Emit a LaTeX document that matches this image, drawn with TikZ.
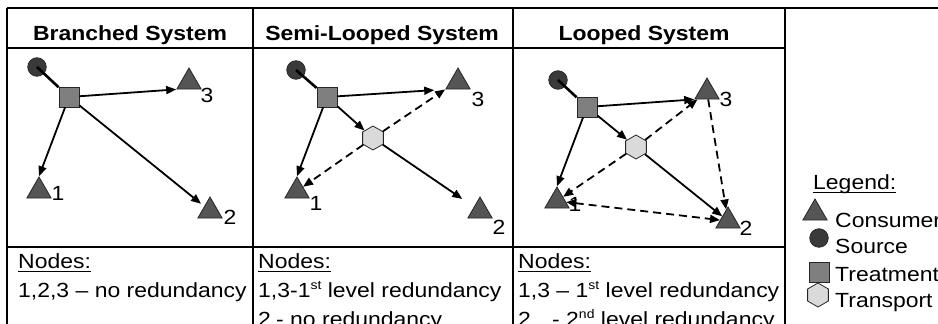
\documentclass[tikz,border=0pt]{standalone}
\usepackage{fontspec}
\setmainfont{Liberation Sans}[FakeStretch=1.12]
\usetikzlibrary{shapes.geometric,arrows.meta}
\definecolor{srcfill}{HTML}{3A3A3A}
\definecolor{trtfill}{HTML}{7F7F7F}
\definecolor{consfill}{HTML}{555555}
\definecolor{hubfill}{HTML}{DADADA}
\definecolor{edgecol}{HTML}{262626}
% underline drawn as a rule a little under the baseline
\newcommand\ulword[1]{\setbox0\hbox{#1}\rlap{\rule[-4.4pt]{\wd0}{1.3pt}}#1}
% small raised ordinal suffix
\newcommand\ordsfx[1]{\raisebox{7.5pt}{\fontsize{12.5}{13}\selectfont #1}}
\begin{document}
\begin{tikzpicture}[x=1pt,y=-1pt,
  txt/.style={inner sep=0pt,font=\fontsize{20.5}{24}\selectfont},
  hd/.style={txt,anchor=base,font=\fontsize{20.5}{24}\selectfont\bfseries},
  body/.style={txt,anchor=base west},
  num/.style={inner sep=0pt,font=\fontsize{20.5}{24}\selectfont},
  cons/.style={regular polygon,regular polygon sides=3,minimum size=28pt,inner sep=0pt,
    fill=consfill,draw=edgecol,line width=0.8pt},
  src/.style={circle,minimum size=18.5pt,inner sep=0pt,fill=srcfill,draw=edgecol,line width=0.8pt},
  trt/.style={rectangle,minimum size=20pt,inner sep=0pt,fill=trtfill,draw=edgecol,line width=0.8pt},
  hub/.style={regular polygon,regular polygon sides=6,shape border rotate=30,minimum size=24pt,
    inner sep=0pt,fill=hubfill,draw=edgecol,line width=0.8pt},
  tip/.tip={Triangle[length=10pt,width=8pt]},
  arr/.style={-tip,line width=1.8pt},
  darr/.style={arr,dash pattern=on 8pt off 5pt},
  dboth/.style={tip-tip,line width=1.8pt,dash pattern=on 8pt off 5pt},
  feed/.style={line width=2.6pt},
  grid/.style={line width=1.3pt}]
\useasboundingbox (0,0) rectangle (938,324);
\clip (0,0) rectangle (938,324);
\fill[white] (0,0) rectangle (938,324);

% table rules
\draw[grid] (7,8) -- (938,8);
\draw[grid] (7,48) -- (785,48);
\draw[grid] (7,247) -- (785,247);
\foreach \x in {7,253,513,785} \draw[grid] (\x,8) -- (\x,324);

% column headings
\node[hd] (hA) at (130,40) {Branched System};
\node[hd] (hB) at (382,40) {Semi-Looped System};
\node[hd] (hC) at (644,40) {Looped System};

% ---- branched system
\node[src] (srcA) at (37,67) {};
\node[trt] (trtA) at (69,97) {};
\node[cons] (cA3) at (189,82) {};
\node[cons] (cA1) at (39,191) {};
\node[cons] (cA2) at (210,211) {};
\node[num] at (207,95) {3};
\node[num] at (58,193) {1};
\node[num] at (230,217) {2};
\draw[feed] (srcA.center) -- (trtA);
\draw[arr] (trtA) -- (cA3.corner 2);
\draw[arr] (trtA) -- (cA1.corner 1);
\draw[arr,shorten >=4pt] (trtA) -- (cA2);

% ---- semi-looped system
\node[src] (srcB) at (296,70) {};
\node[trt] (trtB) at (327,97) {};
\node[hub] (hubB) at (373,138) {};
\node[cons] (cB3) at (458,82) {};
\node[cons] (cB1) at (297,191) {};
\node[cons] (cB2) at (480,211) {};
\node[num] at (478,99) {3};
\node[num] at (316,203) {1};
\node[num] at (499,227) {2};
\draw[feed] (srcB.center) -- (trtB);
\draw[arr,shorten >=11pt] (trtB) -- (cB3.corner 2);
\draw[arr] (trtB) -- (cB1.corner 1);
\draw[arr] (trtB) -- (hubB);
\draw[arr,shorten >=14pt] (hubB) -- (cB2);
\draw[darr] (hubB) -- (cB3.corner 2);
\draw[darr] (hubB) -- (cB1);

% ---- looped system
\node[src] (srcC) at (558,80) {};
\node[trt] (trtC) at (587,107) {};
\node[hub] (hubC) at (636,147) {};
\node[cons] (cC3) at (707,92) {};
\node[cons] (cC1) at (557,201) {};
\node[cons] (cC2) at (728,221) {};
\node[num] at (726,99) {3};
\node[num] at (575,204) {1};
\node[num] at (746,228) {2};
\draw[feed] (srcC.center) -- (trtC);
\draw[arr] (trtC) -- (cC3.corner 2);
\draw[arr] (trtC) -- (cC1.corner 1);
\draw[arr] (trtC) -- (hubC);
\draw[arr] (hubC) -- (cC2);
\draw[darr] (hubC) -- (cC3);
\draw[darr] (hubC) -- (cC1);
\draw[darr] (cC3) -- (cC2);
\draw[dboth] (cC1) -- (cC2);

% ---- notes under each system
\node[body] (nA) at (18,268) {\ulword{Nodes:}};
\node[body] at (18,297) {1,2,3 – no redundancy};
\node[body] (nB) at (258,268) {\ulword{Nodes:}};
\node[body] at (258,297) {1,3-1\ordsfx{st} level redundancy};
\node[body] at (258,326) {2};
\node[body] at (276,326) {- no redundancy};
\node[body] (nC) at (518,268) {\ulword{Nodes:}};
\node[body] at (518,297) {1,3 – 1\ordsfx{st} level redundancy};
\node[body] at (518,326) {2};
\node[body] at (552,326) {- 2\ordsfx{nd} level redundancy};

% ---- legend
\node[body] (lgd) at (813,189) {\ulword{Legend:}};
\node[cons] (kC) at (815,213) {};
\node[body] at (835,227) {Consumer};
\node[src] (kS) at (819,238) {};
\node[body] at (835,253) {Source};
\node[trt] (kT) at (819,272) {};
\node[body] at (835,281) {Treatment};
\node[hub] (kH) at (818,295) {};
\node[body] at (835,307) {Transport};
\end{tikzpicture}
\end{document}
